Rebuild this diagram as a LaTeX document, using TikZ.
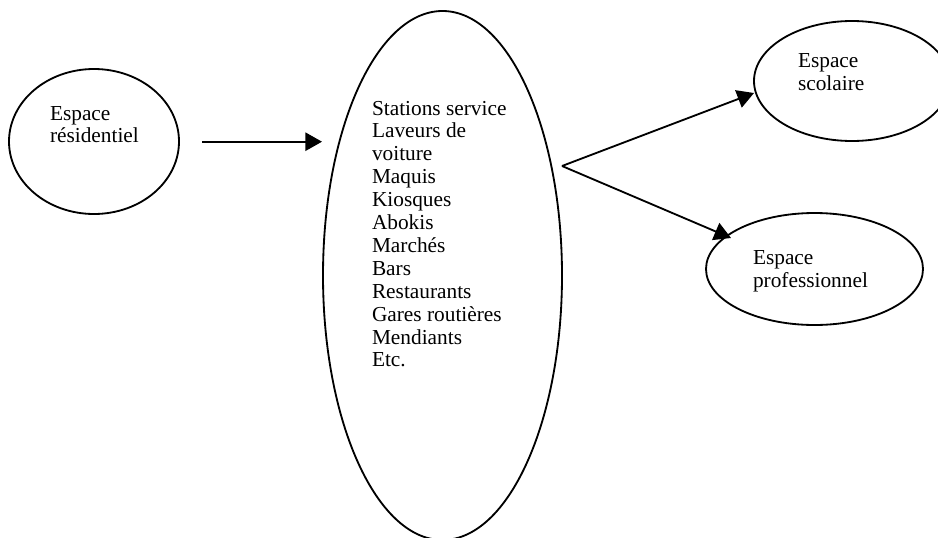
\documentclass[tikz,border=0pt]{standalone}
\usepackage{fontspec}
\setmainfont{Liberation Serif}
\usetikzlibrary{shapes.geometric,arrows.meta}
\begin{document}
\begin{tikzpicture}[x=0.6pt,y=-0.6pt,
  oval/.style={draw,ellipse,line width=1.1pt,inner sep=0pt,outer sep=0pt},
  lbl/.style={anchor=base west,align=left,inner sep=0pt,outer sep=0pt,
    font=\fontsize{12.8pt}{13.74pt}\selectfont},
  arr/.style={line width=1.1pt,-{Triangle[length=10pt,width=11pt]}}]
\useasboundingbox (0,0) rectangle (938,537);
\node[oval,minimum width=102pt,minimum height=87pt] (res) at (94,141.5) {};
\node[oval,minimum width=143.4pt,minimum height=317.4pt] (mid) at (442.5,275.5) {};
\node[oval,minimum width=117.6pt,minimum height=72pt] (sco) at (852,81) {};
\node[oval,minimum width=130.2pt,minimum height=67.2pt] (pro) at (814.5,269) {};
% base anchor of a multi-line node is the baseline of its last line
\node[lbl] (tres) at (50,142.9) {Espace\\résidentiel};
\node[lbl] (tmid) at (372,366.9) {Stations service\\Laveurs de\\voiture\\Maquis\\Kiosques\\Abokis\\Marchés\\Bars\\Restaurants\\Gares routières\\Mendiants\\Etc.};
\node[lbl] (tsco) at (798,90.5) {Espace\\scolaire};
\node[lbl] (tpro) at (753,287) {Espace\\professionnel};
\coordinate (h1) at (202,141.7);
\coordinate (h2) at (322,141.7);
\coordinate (br) at (562,166);
\coordinate (e1) at (754,93);
\coordinate (e2) at (731,238);
\draw[arr] (h1) -- (h2);
\draw[arr] (br) -- (e1);
\draw[arr] (br) -- (e2);
\end{tikzpicture}
\end{document}
